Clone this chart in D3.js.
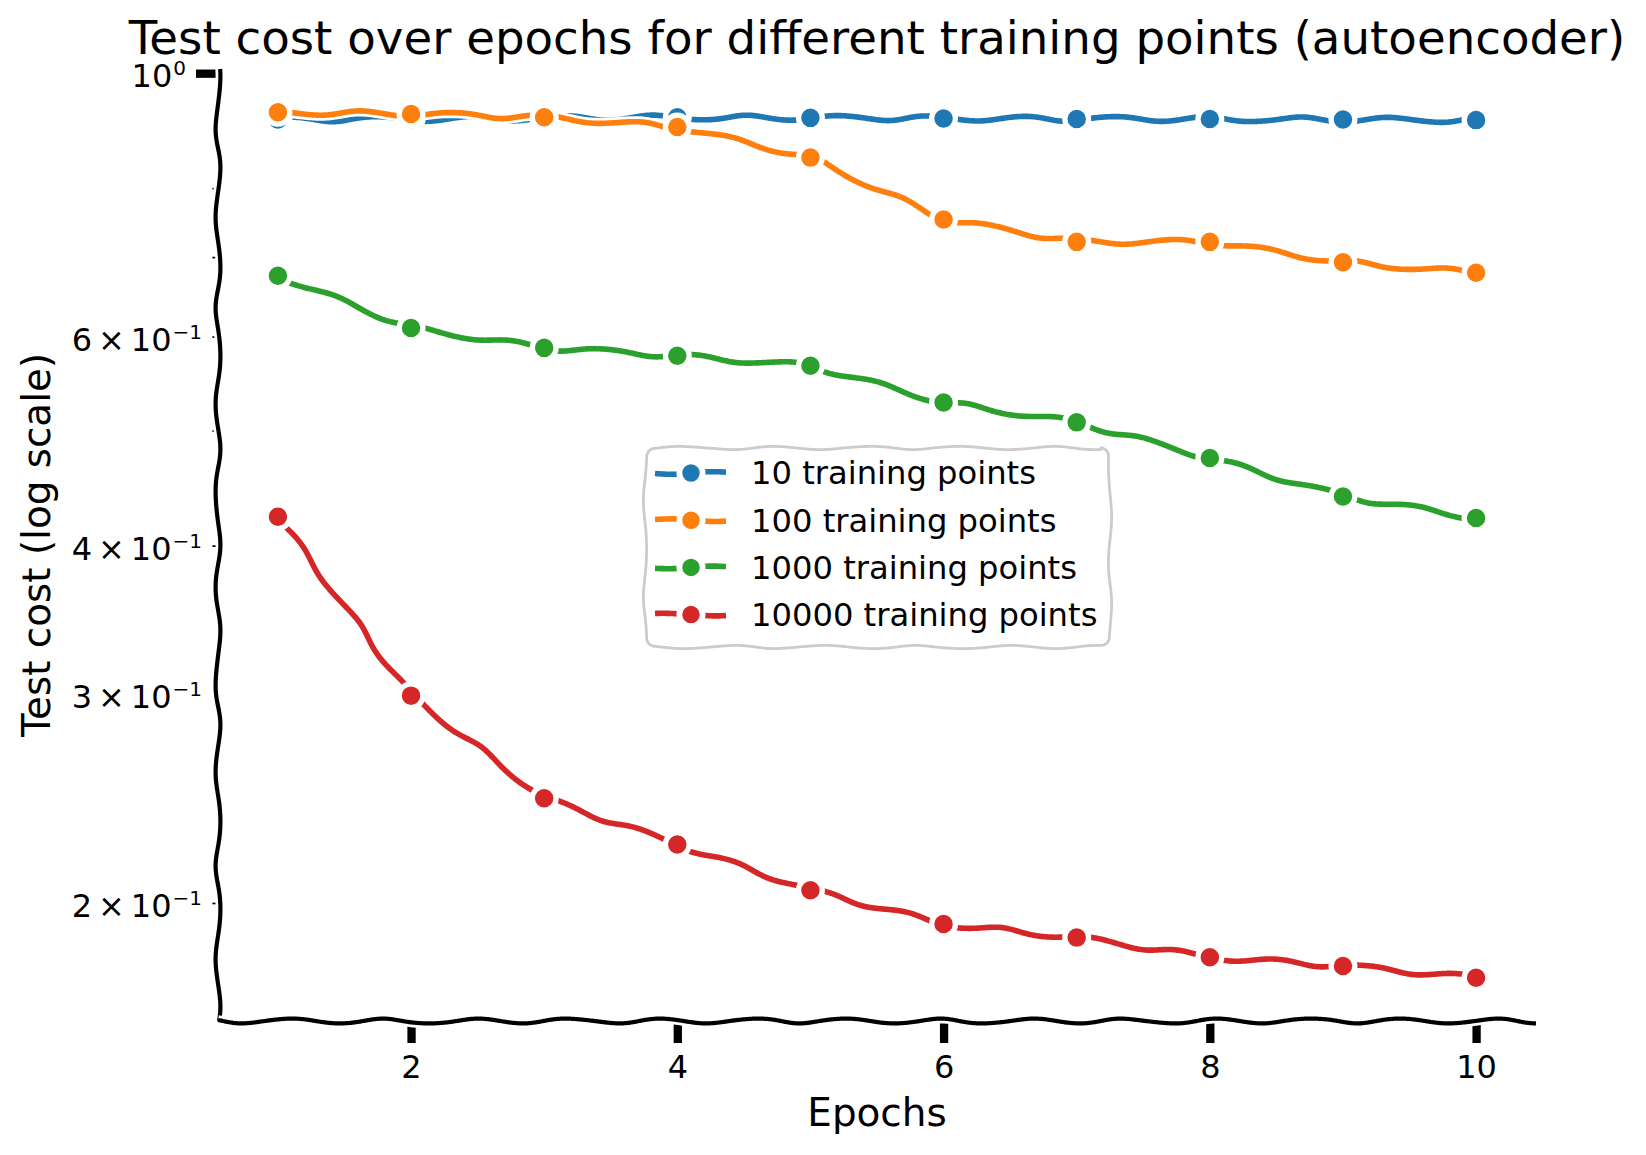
<!DOCTYPE html>
<meta charset="utf-8">
<script src="https://cdn.jsdelivr.net/npm/d3@7"></script>
<style>
 body { margin: 0; background: #fff; }
 text { font-family: "DejaVu Sans", sans-serif; fill: #000; }
</style>
<div id="container"></div>
<script>
 // data
 var epochs = [1, 2, 3, 4, 5, 6, 7, 8, 9, 10];
 var seriesNames = ["10 training points", "100 training points", "1000 training points", "10000 training points"];
 var seriesColors = ["#1f77b4", "#ff7f0e", "#2ca02c", "#d62728"];
 var cost10    = [0.914, 0.915, 0.916, 0.918, 0.917, 0.916, 0.915, 0.915, 0.914, 0.913];
 var cost100   = [0.927, 0.924, 0.918, 0.901, 0.849, 0.753, 0.721, 0.721, 0.693, 0.679];
 var cost1000  = [0.675, 0.610, 0.587, 0.578, 0.567, 0.528, 0.508, 0.474, 0.440, 0.422];
 var cost10000 = [0.423, 0.299, 0.245, 0.224, 0.205, 0.192, 0.187, 0.180, 0.177, 0.173];
 var xTicks = [2, 4, 6, 8, 10];
 var yMajorTicks = [1];
 var yMinorTicks = [0.2, 0.3, 0.4, 0.5, 0.6, 0.7, 0.8, 0.9];
 var yMinorLabelled = [0.2, 0.3, 0.4, 0.6];

 var series = [cost10, cost100, cost1000, cost10000].map(function (v, i) {
     return {name: seriesNames[i], color: seriesColors[i], values: v};
 });

 var width = 1646, height = 1155;
 var margin = {top: 69, right: 110, bottom: 134, left: 218};
 var plotW = width - margin.left - margin.right,
     plotH = height - margin.top - margin.bottom;
 var tickFont = 32, supFont = 20;

 var svg = d3.select("#container").append("svg")
             .attr("width", width).attr("height", height);

 // matplotlib style 5% margins (log space for y)
 var allVals = d3.merge(series.map(function (s) { return s.values; }));
 var lo = Math.log10(d3.min(allVals)), hi = Math.log10(d3.max(allVals));
 var pad = (hi - lo) * 0.05;
 var xPad = (d3.max(epochs) - d3.min(epochs)) * 0.05;

 var x = d3.scaleLinear()
           .domain([d3.min(epochs) - xPad, d3.max(epochs) + xPad])
           .range([margin.left, margin.left + plotW]);
 var y = d3.scaleLog()
           .domain([Math.pow(10, lo - pad), Math.pow(10, hi + pad)])
           .range([margin.top + plotH, margin.top]);

 // xkcd-ish wobble: resample every pixel and push along the normal
 function sketch(pts, seed, amp) {
     amp = amp === undefined ? 2.4 : amp;
     var out = [], phase = seed * 53.7, s = 0;
     for (var i = 0; i < pts.length - 1; i++) {
         var a = pts[i], b = pts[i + 1];
         var dx = b[0] - a[0], dy = b[1] - a[1], len = Math.hypot(dx, dy);
         if (len === 0) continue;
         var nx = -dy / len, ny = dx / len, n = Math.max(1, Math.ceil(len));
         for (var j = (out.length ? 1 : 0); j <= n; j++) {
             var t = j / n;
             phase += 1.08 + 0.3 * Math.sin(s * 0.061 + seed) * Math.cos(s * 0.017 + seed * 1.7);
             s += len / n;
             var r = Math.sin(phase * 2 * Math.PI / 100) * amp;
             out.push([a[0] + dx * t + nx * r, a[1] + dy * t + ny * r]);
         }
     }
     return out;
 }
 var line = d3.line();

 function haloPath(g, pts, color, w) {
     g.append("path").attr("d", line(pts)).attr("fill", "none")
      .attr("stroke", "#fff").attr("stroke-width", w + 5.5).attr("stroke-linejoin", "round");
     g.append("path").attr("d", line(pts)).attr("fill", "none")
      .attr("stroke", color).attr("stroke-width", w).attr("stroke-linejoin", "round");
 }

 // ---- ticks (drawn under the spines) ----
 var xAxis = svg.append("g")
                .attr("transform", `translate(0,${margin.top + plotH})`)
                .call(d3.axisBottom(x).tickValues(xTicks).tickSize(22).tickPadding(12).tickSizeOuter(0));
 xAxis.select(".domain").remove();
 xAxis.selectAll(".tick line").attr("stroke", "#000").attr("stroke-width", 8.3);
 xAxis.selectAll(".tick text").attr("font-size", tickFont).attr("font-family", "DejaVu Sans");

 var yMajor = svg.append("g")
                 .attr("transform", `translate(${margin.left},0)`)
                 .call(d3.axisLeft(y).tickValues(yMajorTicks).tickSize(22).tickFormat(""));
 yMajor.select(".domain").remove();
 yMajor.selectAll(".tick line").attr("stroke", "#000").attr("stroke-width", 8.3);

 var yMinor = svg.append("g")
                 .attr("transform", `translate(${margin.left},0)`)
                 .call(d3.axisLeft(y).tickValues(yMinorTicks).tickSize(5.6).tickFormat(""));
 yMinor.select(".domain").remove();
 yMinor.selectAll(".tick line").attr("stroke", "#000").attr("stroke-width", 1.7);

 // y tick labels in "m × 10^e" form
 function yLabel(v, xRight) {
     var e = Math.floor(Math.log10(v) + 1e-9);
     var m = Math.round(v / Math.pow(10, e));
     var t = svg.append("text")
                .attr("x", xRight).attr("y", y(v) + 14)
                .attr("text-anchor", "end").attr("font-size", tickFont);
     if (m !== 1) {
         t.append("tspan").text(String(m));
         t.append("tspan").attr("dx", 6).text("\u00d7");
         t.append("tspan").attr("dx", 6).text("10");
     } else {
         t.append("tspan").text("10");
     }
     t.append("tspan").attr("dy", -12).attr("dx", 1).attr("font-size", supFont)
      .text(e < 0 ? "\u2212" + (-e) : String(e));
 }
 yMajorTicks.forEach(function (v) { yLabel(v, margin.left - 32); });
 yMinorLabelled.forEach(function (v) { yLabel(v, margin.left - 16); });

 // ---- spines ----
 var spines = svg.append("g");
 haloPath(spines, sketch([[margin.left, margin.top], [margin.left, margin.top + plotH]], 3.1), "#000", 4.2);
 haloPath(spines, sketch([[margin.left, margin.top + plotH], [margin.left + plotW, margin.top + plotH]], 7.3), "#000", 4.2);

 // ---- series ----
 series.forEach(function (sr, k) {
     var g = svg.append("g");
     var pts = epochs.map(function (e, i) { return [x(e), y(sr.values[i])]; });
     haloPath(g, sketch(pts, k * 2.3 + 1.2), sr.color, 5.6);
     g.selectAll("circle.halo").data(epochs).join("circle")
      .attr("cx", function (d) { return x(d); })
      .attr("cy", function (d, i) { return y(sr.values[i]); })
      .attr("r", 14.5).attr("fill", "#fff");
     g.selectAll("circle.dot").data(epochs).join("circle")
      .attr("cx", function (d) { return x(d); })
      .attr("cy", function (d, i) { return y(sr.values[i]); })
      .attr("r", 10).attr("fill", sr.color)
      .attr("stroke", "#fff").attr("stroke-width", 1.5);
 });

 // ---- legend ----
 var lg = {x: 645, y: 448, w: 465, h: 199, r: 9, row0: 473, rowH: 47.2};
 function roundRect(b) {
     var p = [], steps = 6;
     function arc(cx, cy, a0) {
         for (var i = 0; i <= steps; i++) {
             var a = a0 + (Math.PI / 2) * i / steps;
             p.push([cx + b.r * Math.cos(a), cy + b.r * Math.sin(a)]);
         }
     }
     arc(b.x + b.w - b.r, b.y + b.r, -Math.PI / 2);
     arc(b.x + b.w - b.r, b.y + b.h - b.r, 0);
     arc(b.x + b.r, b.y + b.h - b.r, Math.PI / 2);
     arc(b.x + b.r, b.y + b.r, Math.PI);
     p.push(p[0]);
     return p;
 }
 var legend = svg.append("g");
 var frame = sketch(roundRect(lg), 5.5, 1.6);
 legend.append("path").attr("d", line(frame) + "Z")
       .attr("fill", "#fff").attr("fill-opacity", 0.8)
       .attr("stroke", "#cccccc").attr("stroke-width", 2.8).attr("stroke-linejoin", "round");

 series.forEach(function (sr, k) {
     var cy = lg.row0 + k * lg.rowH;
     var row = legend.append("g");
     haloPath(row, sketch([[lg.x + 10, cy], [lg.x + 81, cy]], k + 9.4, 1.3), sr.color, 5.6);
     row.append("circle").attr("cx", lg.x + 46).attr("cy", cy).attr("r", 14.5).attr("fill", "#fff");
     row.append("circle").attr("cx", lg.x + 46).attr("cy", cy).attr("r", 9.5)
        .attr("fill", sr.color).attr("stroke", "#fff").attr("stroke-width", 1.5);
     row.append("text").attr("x", lg.x + 106).attr("y", cy + 11.3)
        .attr("font-size", 32.2).text(sr.name);
 });

 // ---- titles ----
 svg.append("text")
    .attr("x", margin.left + plotW / 2).attr("y", 54)
    .attr("text-anchor", "middle").attr("font-size", 46.7)
    .text("Test cost over epochs for different training points (autoencoder)");

 svg.append("text")
    .attr("x", margin.left + plotW / 2).attr("y", 1126)
    .attr("text-anchor", "middle").attr("font-size", 38.9)
    .text("Epochs");

 svg.append("text")
    .attr("transform", `translate(50,${margin.top + plotH / 2}) rotate(-90)`)
    .attr("text-anchor", "middle").attr("font-size", 38.9)
    .text("Test cost (log scale)");
</script>
